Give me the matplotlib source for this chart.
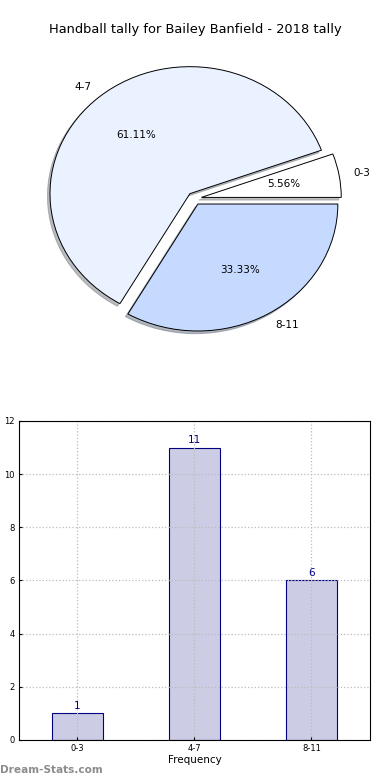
import numpy as np
import matplotlib
matplotlib.use('Agg')
import matplotlib.pyplot as plt

plt.rcParams['font.family'] = ['DejaVu Sans']

# data
categories = ['0-3', '4-7', '8-11']
counts = [1, 11, 6]
pie_colors = ['#FFFFFF', '#EAF1FF', '#C6DAFF']
explode = [0.05, 0.05, 0.05]

fig = plt.figure(figsize=(3.9, 7.8), dpi=100)

# pie chart
ax1 = fig.add_axes([0.05, 0.542, 0.897, 0.407])
wedges, texts, autotexts = ax1.pie(counts, labels=categories, colors=pie_colors,
                                   explode=explode, autopct='%1.2f%%',
                                   shadow={'ox': -0.013, 'oy': -0.015, 'shade': 0.5},
                                   startangle=0, counterclock=True,
                                   wedgeprops={'edgecolor': 'black', 'linewidth': 0.7},
                                   textprops={'fontsize': 7.5})
ax1.set_aspect('auto')
ax1.set_xlim(-1.25, 1.25)
ax1.set_ylim(-1.25, 1.25)
ax1.axis('off')
fig.text(0.5, 1 - 30 / 780, 'Handball tally for Bailey Banfield - 2018 tally',
         ha='center', va='center', fontsize=9.4)

# bar chart
ax2 = fig.add_axes([0.0487, 0.0513, 0.9, 0.409])
x = np.arange(len(categories))
bars = ax2.bar(x, counts, width=0.44, color='#CCCCE5', edgecolor='#000080',
               linewidth=0.8, zorder=1)
for xi, c in zip(x, counts):
    ax2.text(xi, c + 0.1, str(c), ha='center', va='bottom', color='#000080', fontsize=7.5)
ax2.set_xlim(-0.5, 2.5)
ax2.set_ylim(0, 12)
ax2.set_yticks(range(0, 13, 2))
ax2.set_xticks(x)
ax2.set_xticklabels(categories)
ax2.tick_params(labelsize=6, length=2, direction='in', pad=3)
ax2.set_axisbelow('line')
ax2.grid(True, linestyle=':', color='#BBBBBB', linewidth=0.9)
ax2.set_xlabel('Frequency', fontsize=7.5, labelpad=1)
ax2.set_ylabel('Score in Tallies', fontsize=7.5, labelpad=8)

fig.text(0.0, 1 - 770 / 780, 'Dream-Stats.com', ha='left', va='center',
         fontsize=7.6, color='#8C8C8C', fontweight='bold')

fig.savefig('out.png', dpi=100)
